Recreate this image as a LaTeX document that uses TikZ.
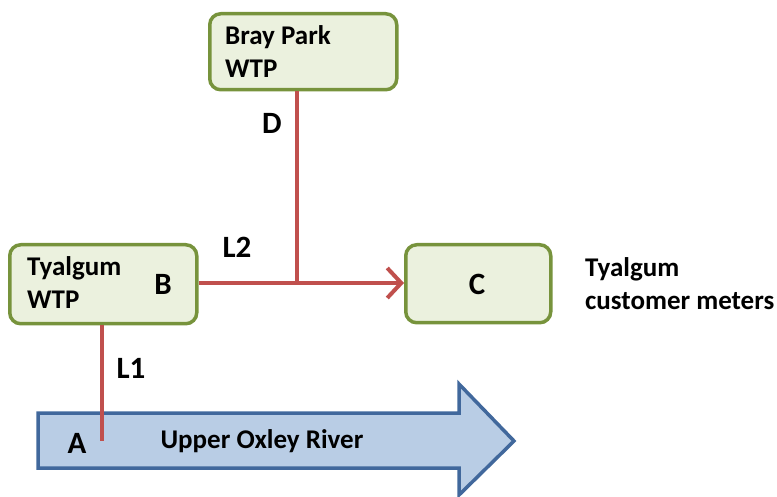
\documentclass[tikz,border=0pt]{standalone}
\usepackage{fontspec}
\setmainfont{Carlito}
\usetikzlibrary{arrows.meta}
\definecolor{boxfill}{HTML}{EBF1DE}
\definecolor{boxdraw}{HTML}{77933C}
\definecolor{pipe}{HTML}{C0504D}
\definecolor{riverfill}{HTML}{B9CDE5}
\definecolor{riverdraw}{HTML}{41689C}
\tikzset{
  wtp/.style={draw=boxdraw, fill=boxfill, line width=3.5pt, rounded corners=11pt},
  pipeline/.style={draw=pipe, line width=4pt},
  lbl/.style={font=\bfseries\fontsize{31}{36}\selectfont, inner sep=0pt},
  txt/.style={font=\bfseries\fontsize{27}{33}\selectfont, inner sep=0pt, align=left, anchor=west},
}
\begin{document}
\begin{tikzpicture}[x=1pt,y=-1pt]
\useasboundingbox (0,0) rectangle (777,497);
% river
\draw[draw=riverdraw, fill=riverfill, line width=3.5pt, line join=miter]
  (38,413) -- (459,413) -- (459,384) -- (514,441) -- (459,495) -- (459,468) -- (38,468) -- cycle;
\node[txt, anchor=center] (river) at (262,441) {Upper Oxley River};
\coordinate (A) at (102,441);
\node[lbl] (Alab) at (77,443) {A};
% boxes
\node[wtp, minimum width=187pt, minimum height=76pt, anchor=north west] (bray) at (208,12) {};
\node[txt] (braytxt) at (225,52) {Bray Park\\WTP};
\node[wtp, minimum width=187pt, minimum height=79pt, anchor=north west] (tyal) at (8,243) {};
\node[txt] (tyaltxt) at (27,283) {Tyalgum\\WTP};
\node[lbl] (Blab) at (163,284) {B};
\node[wtp, minimum width=145pt, minimum height=78pt, anchor=north west] (cbox) at (404,243) {};
\node[lbl] (Clab) at (477,284) {C};
\node[txt] (cust) at (585,284) {Tyalgum\\customer meters};
% pipes
\coordinate (J) at (297,283);
\draw[pipeline] (bray.south -| J) -- (J);
\draw[pipeline, -{Straight Barb[length=14pt, width=30pt, line width=4pt]}] (tyal.east |- J) -- (cbox.west |- J);
\draw[pipeline] (tyal.south -| A) -- (A);
\node[lbl] (Dlab) at (272,123) {D};
\node[lbl] (L2) at (237,247) {L2};
\node[lbl] (L1) at (131,368) {L1};
\end{tikzpicture}
\end{document}
